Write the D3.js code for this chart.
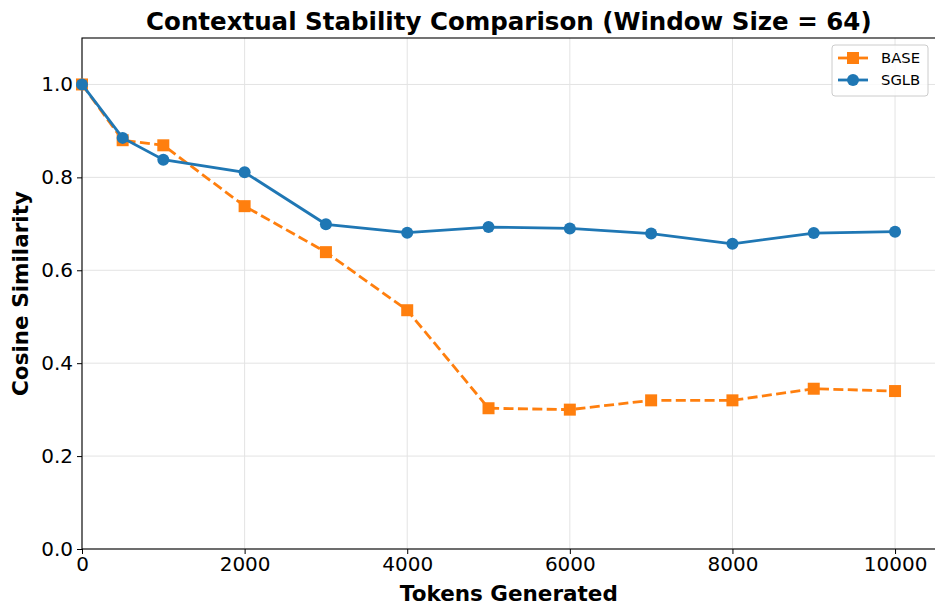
<!DOCTYPE html>
<html><head><meta charset="utf-8">
<script src="https://cdn.jsdelivr.net/npm/d3@7"></script>
<style>body{margin:0;background:#fff}text{font-family:"DejaVu Sans",sans-serif}</style>
</head><body><svg id="c" width="935" height="605"></svg>
<script>
const tokens = [0, 500, 1000, 2000, 3000, 4000, 5000, 6000, 7000, 8000, 9000, 10000];
const baseVals = [1.0, 0.880, 0.869, 0.738, 0.639, 0.514, 0.303, 0.300, 0.320, 0.320, 0.345, 0.340];
const sglbVals = [1.0, 0.885, 0.838, 0.811, 0.699, 0.681, 0.693, 0.690, 0.679, 0.657, 0.680, 0.683];
const xTicks = [0, 2000, 4000, 6000, 8000, 10000];
const yTicks = [0.0, 0.2, 0.4, 0.6, 0.8, 1.0];
const seriesNames = ["BASE", "SGLB"];

const svg = d3.select("#c");
const L = 82, R = 935.7, T = 38, B = 549;
const x = d3.scaleLinear().domain([0, 10500]).range([L, R]);
const y = d3.scaleLinear().domain([0, 1.1]).range([B, T]);

// grid
const g = svg.append("g");
g.selectAll(".gx").data(xTicks).enter().append("line")
  .attr("x1", d => x(d)).attr("x2", d => x(d)).attr("y1", T).attr("y2", B)
  .attr("stroke", "#e3e3e3").attr("stroke-width", 1);
g.selectAll(".gy").data(yTicks).enter().append("line")
  .attr("x1", L).attr("x2", R).attr("y1", d => y(d)).attr("y2", d => y(d))
  .attr("stroke", "#e3e3e3").attr("stroke-width", 1);

// axes
const xa = svg.append("g").attr("transform", `translate(0,${B})`)
  .call(d3.axisBottom(x).tickValues(xTicks).tickFormat(d3.format("d")).tickSize(5).tickPadding(3));
const ya = svg.append("g").attr("transform", `translate(${L},0)`)
  .call(d3.axisLeft(y).tickValues(yTicks).tickFormat(d3.format(".1f")).tickSize(5).tickPadding(4));
[xa, ya].forEach(a => {
  a.select(".domain").remove();
  a.selectAll("text").attr("font-size", 20).attr("fill", "#000").style("font-family", "DejaVu Sans");
  a.selectAll("line").attr("stroke", "#000");
});
// spines
svg.append("rect").attr("x", L).attr("y", T).attr("width", R - L).attr("height", B - T)
  .attr("fill", "none").attr("stroke", "#000").attr("stroke-width", 1.1);

// lines
const line = vals => d3.line().x((d, i) => x(tokens[i])).y(d => y(d))(vals);
svg.append("path").attr("d", line(baseVals)).attr("fill", "none")
  .attr("stroke", "#ff7f0e").attr("stroke-width", 2.8).attr("stroke-dasharray", "10,4.4");
svg.selectAll(".bm").data(baseVals).enter().append("rect")
  .attr("x", (d, i) => x(tokens[i]) - 6).attr("y", d => y(d) - 6)
  .attr("width", 12).attr("height", 12).attr("fill", "#ff7f0e");
svg.append("path").attr("d", line(sglbVals)).attr("fill", "none")
  .attr("stroke", "#1f77b4").attr("stroke-width", 2.8);
svg.selectAll(".sm").data(sglbVals).enter().append("circle")
  .attr("cx", (d, i) => x(tokens[i])).attr("cy", d => y(d)).attr("r", 6).attr("fill", "#1f77b4");

// title & labels
svg.append("text").attr("x", (L + R) / 2).attr("y", 30).attr("text-anchor", "middle")
  .attr("font-size", 24.5).attr("font-weight", "bold").text("Contextual Stability Comparison (Window Size = 64)");
svg.append("text").attr("x", (L + R) / 2).attr("y", 601).attr("text-anchor", "middle")
  .attr("font-size", 21.5).attr("font-weight", "bold").text("Tokens Generated");
svg.append("text").attr("transform", `translate(28,${(T + B) / 2}) rotate(-90)`).attr("text-anchor", "middle")
  .attr("font-size", 21.5).attr("font-weight", "bold").text("Cosine Similarity");

// legend
const lg = svg.append("g");
lg.append("rect").attr("x", 832).attr("y", 45).attr("width", 96).attr("height", 51).attr("rx", 3)
  .attr("fill", "#fff").attr("fill-opacity", 0.8).attr("stroke", "#ccc");
const colors = ["#ff7f0e", "#1f77b4"];
seriesNames.forEach((n, i) => {
  const yy = 58 + i * 22;
  lg.append("line").attr("x1", 838).attr("x2", 868).attr("y1", yy).attr("y2", yy)
    .attr("stroke", colors[i]).attr("stroke-width", 2.8);
  if (i === 0) lg.append("rect").attr("x", 847).attr("y", yy - 6).attr("width", 12).attr("height", 12).attr("fill", colors[i]);
  else lg.append("circle").attr("cx", 853).attr("cy", yy).attr("r", 6).attr("fill", colors[i]);
  lg.append("text").attr("x", 881).attr("y", yy + 5).attr("font-size", 14.8).text(n);
});
</script></body></html>
